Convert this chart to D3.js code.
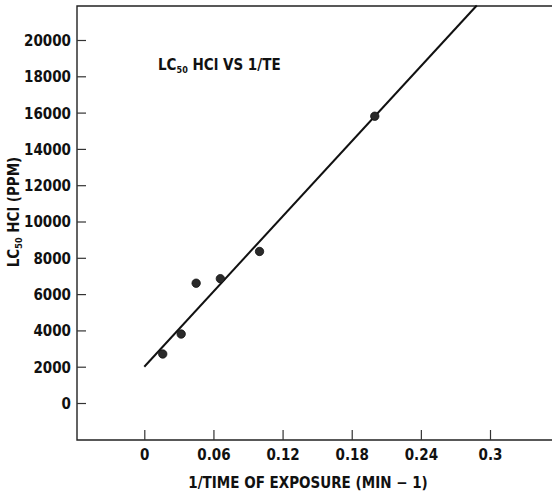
<!DOCTYPE html>
<html>
<head>
<meta charset="utf-8">
<script src="https://cdn.jsdelivr.net/npm/d3@7"></script>
<style>
  body { margin: 0; background: #fff; }
  svg text { font-family: "Liberation Sans Narrow", "DejaVu Sans Condensed", "Liberation Sans", sans-serif; font-weight: bold; fill: #111; }
</style>
</head>
<body>
<div id="container"></div>
<script>
const W = 552;
const H = 497;

// data
const exposureX = [0.016, 0.032, 0.045, 0.066, 0.1, 0.2];
const lc50Y = [2700, 3800, 6600, 6850, 8350, 15800];
const fitX = [0, 0.2885];
const fitY = [2000, 21900];
const xTicks = [0, 0.06, 0.12, 0.18, 0.24, 0.3];
const xTickLabels = ["0", "0.06", "0.12", "0.18", "0.24", "0.3"];
const yTicks = [0, 2000, 4000, 6000, 8000, 10000, 12000, 14000, 16000, 18000, 20000];

const PL = 77, PR = 552, PT = 6, PB = 440;

const svg = d3.select("#container")
  .append("svg")
  .attr("width", W)
  .attr("height", H);

const x = d3.scaleLinear().domain([-0.0584, 0.3538]).range([PL, PR]);
const y = d3.scaleLinear().domain([-2038, 21873]).range([PB, PT]);

// frame: top and left/bottom edges
svg.append("path")
  .attr("d", `M${PR},${PT}H${PL}V${PB}H${PR}`)
  .attr("fill", "none")
  .attr("stroke", "#222")
  .attr("stroke-width", 1.4);

const yAxis = d3.axisLeft(y)
  .tickValues(yTicks)
  .tickFormat(d3.format("d"))
  .tickSizeInner(-9)
  .tickSizeOuter(0)
  .tickPadding(6);

const gy = svg.append("g")
  .attr("transform", `translate(${PL},0)`)
  .call(yAxis);
gy.select(".domain").remove();
gy.selectAll(".tick line").attr("stroke", "#333").attr("stroke-width", 1.2);
gy.selectAll(".tick text").style("font-size", "15px").attr("dy", "0.36em");

const xAxis = d3.axisBottom(x)
  .tickValues(xTicks)
  .tickFormat((d, i) => xTickLabels[i])
  .tickSizeInner(-10)
  .tickSizeOuter(0)
  .tickPadding(9);

const gx = svg.append("g")
  .attr("transform", `translate(0,${PB})`)
  .call(xAxis);
gx.select(".domain").remove();
gx.selectAll(".tick line").attr("stroke", "#333").attr("stroke-width", 1.2);
gx.selectAll(".tick text").style("font-size", "15px");

// regression line
svg.append("line")
  .attr("x1", x(fitX[0]))
  .attr("y1", y(fitY[0]))
  .attr("x2", x(fitX[1]))
  .attr("y2", y(fitY[1]))
  .attr("stroke", "#111")
  .attr("stroke-width", 2);

// points
svg.selectAll(".dot")
  .data(exposureX.map((d, i) => [d, lc50Y[i]]))
  .enter()
  .append("circle")
  .attr("class", "dot")
  .attr("cx", d => x(d[0]))
  .attr("cy", d => y(d[1]))
  .attr("r", 4.2)
  .attr("fill", "#2a2a2a")
  .attr("stroke", "#111")
  .attr("stroke-width", 0.8);

// inside title
const title = svg.append("text")
  .attr("x", 158)
  .attr("y", 70)
  .style("font-size", "15px");
title.append("tspan").text("LC");
title.append("tspan").text("50").style("font-size", "9px").attr("dy", 3);
title.append("tspan").text(" HCl VS 1/TE").attr("dy", -3);

// y axis label
const ylab = svg.append("text")
  .attr("transform", `translate(19,212) rotate(-90)`)
  .attr("text-anchor", "middle")
  .style("font-size", "15px");
ylab.append("tspan").text("LC");
ylab.append("tspan").text("50").style("font-size", "9px").attr("dy", 3);
ylab.append("tspan").text(" HCl (PPM)").attr("dy", -3);

// x axis label
svg.append("text")
  .attr("x", 308)
  .attr("y", 488)
  .attr("text-anchor", "middle")
  .style("font-size", "15px")
  .text("1/TIME OF EXPOSURE (MIN \u2212 1)");
</script>
</body>
</html>
